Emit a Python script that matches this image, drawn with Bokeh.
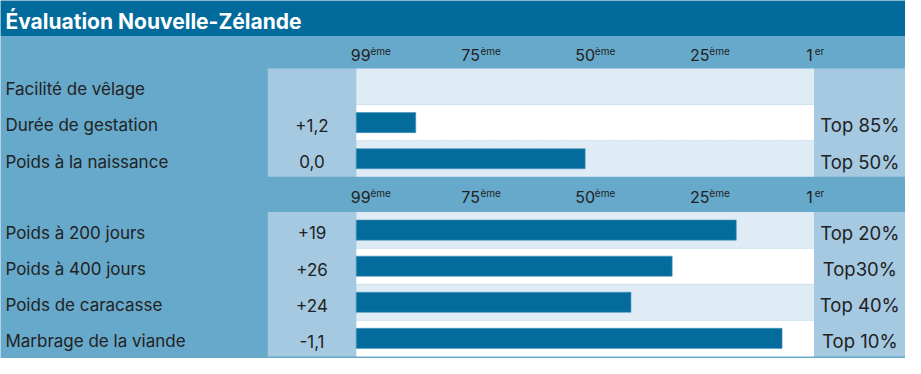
from bokeh.plotting import figure
from bokeh.models import Range1d, ColumnDataSource
from bokeh.embed import file_html
from bokeh.resources import INLINE
from bokeh.core.properties import value

# ---------------- data ----------------
title = "Évaluation Nouvelle-Zélande"

sec1_traits = ["Facilité de vêlage", "Durée de gestation", "Poids à la naissance"]
sec1_values = ["", "+1,2", "0,0"]
sec1_rank = [None, 87, 50]          # percentile rank reached by the bar (99 = worst, 1 = best)
sec1_top = ["", "Top 85%", "Top 50%"]

sec2_traits = ["Poids à 200 jours", "Poids à 400 jours", "Poids de caracasse", "Marbrage de la viande"]
sec2_values = ["+19", "+26", "+24", "-1,1"]
sec2_rank = [17, 31, 40, 7]
sec2_top = ["Top 20%", "Top30%", "Top 40%", "Top 10%"]

tick_values = [99, 75, 50, 25, 1]
tick_numbers = ["99", "75", "50", "25", "1"]
tick_suffix = ["ème", "ème", "ème", "ème", "er"]

# ---------------- layout (reference pixel frame) ----------------
W_REF, H_REF = 921, 374
FIG_W, FIG_H = 905, 358
TITLE_H = 37
VAL_LEFT, BAR_LEFT, BAR_RIGHT = 272, 362, 828
LABEL_X, VAL_X, TOP_X = 5, 317, 874.5
ROW_H = 37.7
SECTIONS = [(37, 71), (184, 221)]   # (header top, rows top)
BAR_H = 21
TEXT_DY = 3

C_TITLE = "#026B9C"
C_BG = "#66A9CB"
C_COL = "#A4C9E1"
C_LIGHT = "#E0ECF5"
C_WHITE = "#FFFFFF"
C_BAR = "#036C9C"
C_TEXT = "#222222"
FONT = "Inter"


def pct(px):
    return 100 - (px - BAR_LEFT) * 100.0 / (BAR_RIGHT - BAR_LEFT)


p = figure(width=FIG_W, height=FIG_H, output_backend="svg", toolbar_location=None,
           x_range=Range1d(pct(0), pct(W_REF)), y_range=Range1d(H_REF, 0),
           min_border=0, outline_line_color=None)
p.axis.visible = False
p.grid.visible = False
p.background_fill_color = C_BG
p.border_fill_color = C_BG

# title bar
p.quad(left=[pct(0)], right=[pct(W_REF)], top=[0], bottom=[TITLE_H], fill_color=C_TITLE, line_color=None)
p.text(x=[pct(LABEL_X)], y=[TITLE_H / 2 + TEXT_DY], text=[title], text_color="white",
       text_font=value(FONT), text_font_style="bold", text_font_size="21px",
       text_baseline="middle", text_align="left")

sections = [
    (sec1_traits, sec1_values, sec1_rank, sec1_top),
    (sec2_traits, sec2_values, sec2_rank, sec2_top),
]

for (head_top, rows_top), (traits, vals, ranks, tops) in zip(SECTIONS, sections):
    n = len(traits)
    bottom = rows_top + n * ROW_H
    # value + right columns
    p.quad(left=[pct(VAL_LEFT), pct(BAR_RIGHT)], right=[pct(BAR_LEFT), pct(W_REF)],
           top=[rows_top] * 2, bottom=[bottom] * 2, fill_color=C_COL, line_color=None)
    # stripes
    ys = [rows_top + (i + 0.5) * ROW_H for i in range(n)]
    p.quad(left=[pct(BAR_LEFT)] * n, right=[pct(BAR_RIGHT)] * n,
           top=[y - ROW_H / 2 for y in ys], bottom=[y + ROW_H / 2 for y in ys],
           fill_color=[C_LIGHT if i % 2 == 0 else C_WHITE for i in range(n)], line_color=None)
    # thin separators
    p.segment(x0=[pct(BAR_LEFT)] * (n - 1), x1=[pct(BAR_RIGHT)] * (n - 1),
              y0=[rows_top + (i + 1) * ROW_H for i in range(n - 1)],
              y1=[rows_top + (i + 1) * ROW_H for i in range(n - 1)],
              line_color="#CFE2EE", line_width=1, line_dash="2 1")
    # bars
    bsrc = ColumnDataSource(dict(
        y=[y for y, r in zip(ys, ranks) if r is not None],
        right=[r for r in ranks if r is not None]))
    p.hbar(y="y", left=100, right="right", height=BAR_H, source=bsrc,
           fill_color=C_BAR, line_color="#4A93BD", line_width=0.6)
    # texts
    ty = [y + TEXT_DY for y in ys]
    p.text(x=[pct(LABEL_X)] * n, y=ty, text=traits, text_color=C_TEXT, text_font=value(FONT),
           text_font_size="17px", text_baseline="middle", text_align="left")
    p.text(x=[pct(VAL_X)] * n, y=ty, text=vals, text_color=C_TEXT, text_font=value(FONT),
           text_font_size="17px", text_baseline="middle", text_align="center")
    p.text(x=[pct(TOP_X)] * n, y=ty, text=tops, text_color=C_TEXT, text_font=value(FONT),
           text_font_size="18.5px", text_baseline="middle", text_align="center")
    # header ticks
    hy = (head_top + rows_top) / 2 + TEXT_DY
    tsrc = ColumnDataSource(dict(x=tick_values, num=tick_numbers, suf=tick_suffix,
                                 off=[4.6 * len(t) + 0.5 for t in tick_numbers]))
    p.text(x="x", y=hy, text="num", source=tsrc, text_color=C_TEXT, text_font=value(FONT),
           text_font_size="16px", text_baseline="middle", text_align="center")
    p.text(x="x", y=hy - 4, text="suf", x_offset="off", source=tsrc, text_color=C_TEXT,
           text_font=value(FONT), text_font_size="10px", text_baseline="middle", text_align="left")

open("out.html", "w").write(file_html(p, INLINE))
